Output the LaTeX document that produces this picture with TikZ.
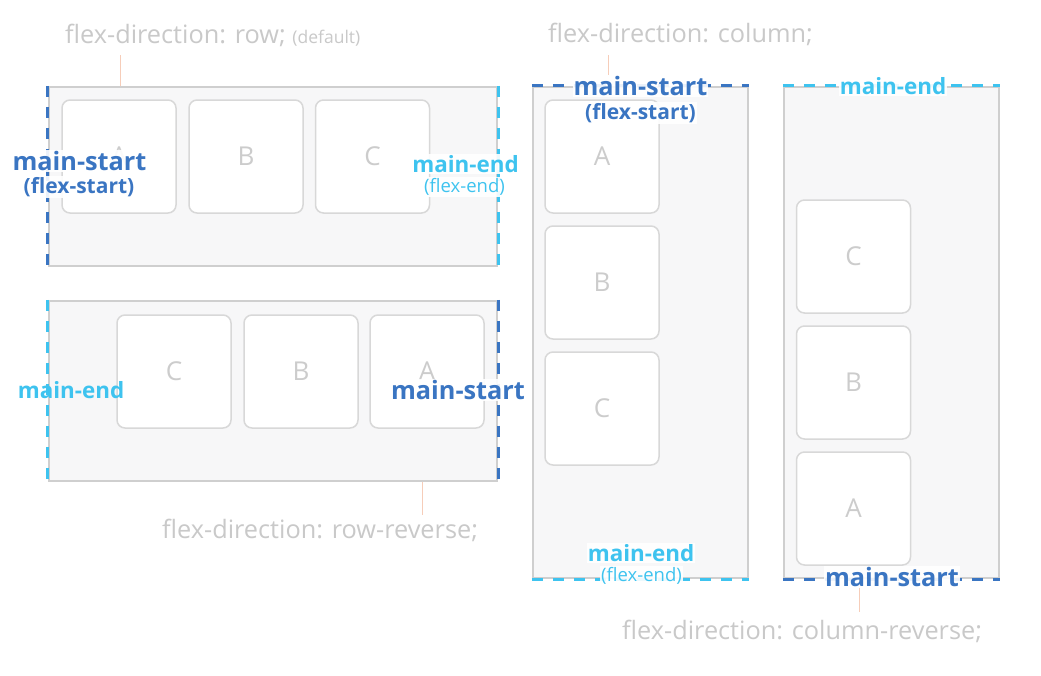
\documentclass[tikz,border=0pt]{standalone}
\usepackage{fontspec}
\setmainfont{Open Sans}
\definecolor{boxgray}{HTML}{CFCFCF}
\definecolor{boxfill}{HTML}{F7F7F8}
\definecolor{itemgray}{HTML}{D8D8D8}
\definecolor{lettergray}{HTML}{CCCCCC}
\definecolor{labelgray}{HTML}{C9C9C9}
\definecolor{startblue}{HTML}{3A75C2}
\definecolor{endblue}{HTML}{3EC3EF}
\definecolor{connorange}{HTML}{F6CDB9}
\begin{document}
\begin{tikzpicture}[x=1pt,y=-1pt,
  container/.style={draw=boxgray, line width=2.5pt, fill=boxfill, inner sep=0pt},
  item/.style={draw=itemgray, line width=1.5pt, fill=white, rounded corners=8pt,
    minimum width=114pt, minimum height=113pt, inner sep=0pt,
    text=lettergray, font=\fontsize{26}{26}\selectfont},
  startedge/.style={draw=startblue, line width=3pt, dash pattern=on 11pt off 10pt},
  endedge/.style={draw=endblue, line width=3pt, dash pattern=on 11pt off 10pt},
  lblbg/.style={fill=white, fill opacity=0.9, text opacity=1, inner sep=1pt},
  startlbl/.style={lblbg, text=startblue, font=\bfseries\fontsize{25.3}{25.3}\selectfont},
  startsub/.style={lblbg, text=startblue, font=\bfseries\fontsize{21}{21}\selectfont},
  endlbl/.style={lblbg, text=endblue, font=\bfseries\fontsize{22.4}{22.4}\selectfont},
  endsub/.style={lblbg, text=endblue, font=\fontsize{18.5}{18.5}\selectfont},
  graylbl/.style={text=labelgray, font=\fontsize{25.3}{25.3}\selectfont, anchor=west, inner sep=0pt},
  conn/.style={draw=connorange, line width=1pt}]
\useasboundingbox (0,0) rectangle (1041,675);
\fill[white] (0,0) rectangle (1041,675);

% containers
\node[container, minimum width=448pt, minimum height=179pt] (r1) at (273,176.5) {};
\node[container, minimum width=448pt, minimum height=180pt] (r2) at (273,391) {};
\node[container, minimum width=215pt, minimum height=491pt] (r3) at (640.5,332.5) {};
\node[container, minimum width=215pt, minimum height=491pt] (r4) at (891.5,332.5) {};

% dashed main axis edges
\draw[startedge] (r1.north west) -- (r1.south west);
\draw[endedge] (r1.north east) -- (r1.south east);
\draw[endedge] (r2.north west) -- (r2.south west);
\draw[startedge] (r2.north east) -- (r2.south east);
\draw[startedge] (r3.north west) -- (r3.north east);
\draw[endedge] (r3.south west) -- (r3.south east);
\draw[endedge] (r4.north west) -- (r4.north east);
\draw[startedge] (r4.south west) -- (r4.south east);

% items
\node[item] (a1) at (119,156.5) {A};
\node[item] (b1) at (246,156.5) {B};
\node[item] (c1) at (372.5,156.5) {C};
\node[item] (c2) at (174,371.5) {C};
\node[item] (b2) at (301,371.5) {B};
\node[item] (a2) at (427,371.5) {A};
\node[item] (a3) at (602,156.5) {A};
\node[item] (b3) at (602,282.5) {B};
\node[item] (c3) at (602,408.5) {C};
\node[item] (c4) at (853.5,256.5) {C};
\node[item] (b4) at (853.5,382.5) {B};
\node[item] (a4) at (853.5,508.5) {A};

% main-start / main-end labels
\node[startlbl] (ms1) at (79.5,161) {main-start};
\node[startsub] (fs1) at (79,187) {(flex-start)};
\node[endlbl] (me1) at (465.5,164) {main-end};
\node[endsub] (fe1) at (464.5,187) {(flex-end)};
\node[endlbl, fill=none] (me2) at (71,390) {main-end};
\node[startlbl] (ms2) at (458,390) {main-start};
\node[startlbl] (ms3) at (640.5,86) {main-start};
\node[startsub] (fs3) at (640.5,113) {(flex-start)};
\node[endlbl] (me3) at (641,553) {main-end};
\node[endsub] (fe3) at (641.5,576) {(flex-end)};
\node[endlbl] (me4) at (893,86) {main-end};
\node[startlbl] (ms4) at (892,577) {main-start};

% flex-direction captions
\node[graylbl] (t1) at (65,35) {flex-direction: row; {\fontsize{17.5}{17.5}\selectfont(default)}};
\node[graylbl] (t3) at (548,34) {flex-direction: column;};
\node[graylbl] (t2) at (162,530) {flex-direction: row-reverse;};
\node[graylbl] (t4) at (622,631) {flex-direction: column-reverse;};

% connectors
\coordinate (k1) at (120,55);
\draw[conn] (k1) -- (k1 |- r1.north);
\coordinate (k3) at (608,55);
\draw[conn] (k3) -- (k3 |- ms3.north);
\coordinate (k2) at (422,515);
\draw[conn] (r2.south -| k2) -- (k2);
\coordinate (k4) at (859,612);
\draw[conn] (ms4.south -| k4) -- (k4);
\end{tikzpicture}
\end{document}
